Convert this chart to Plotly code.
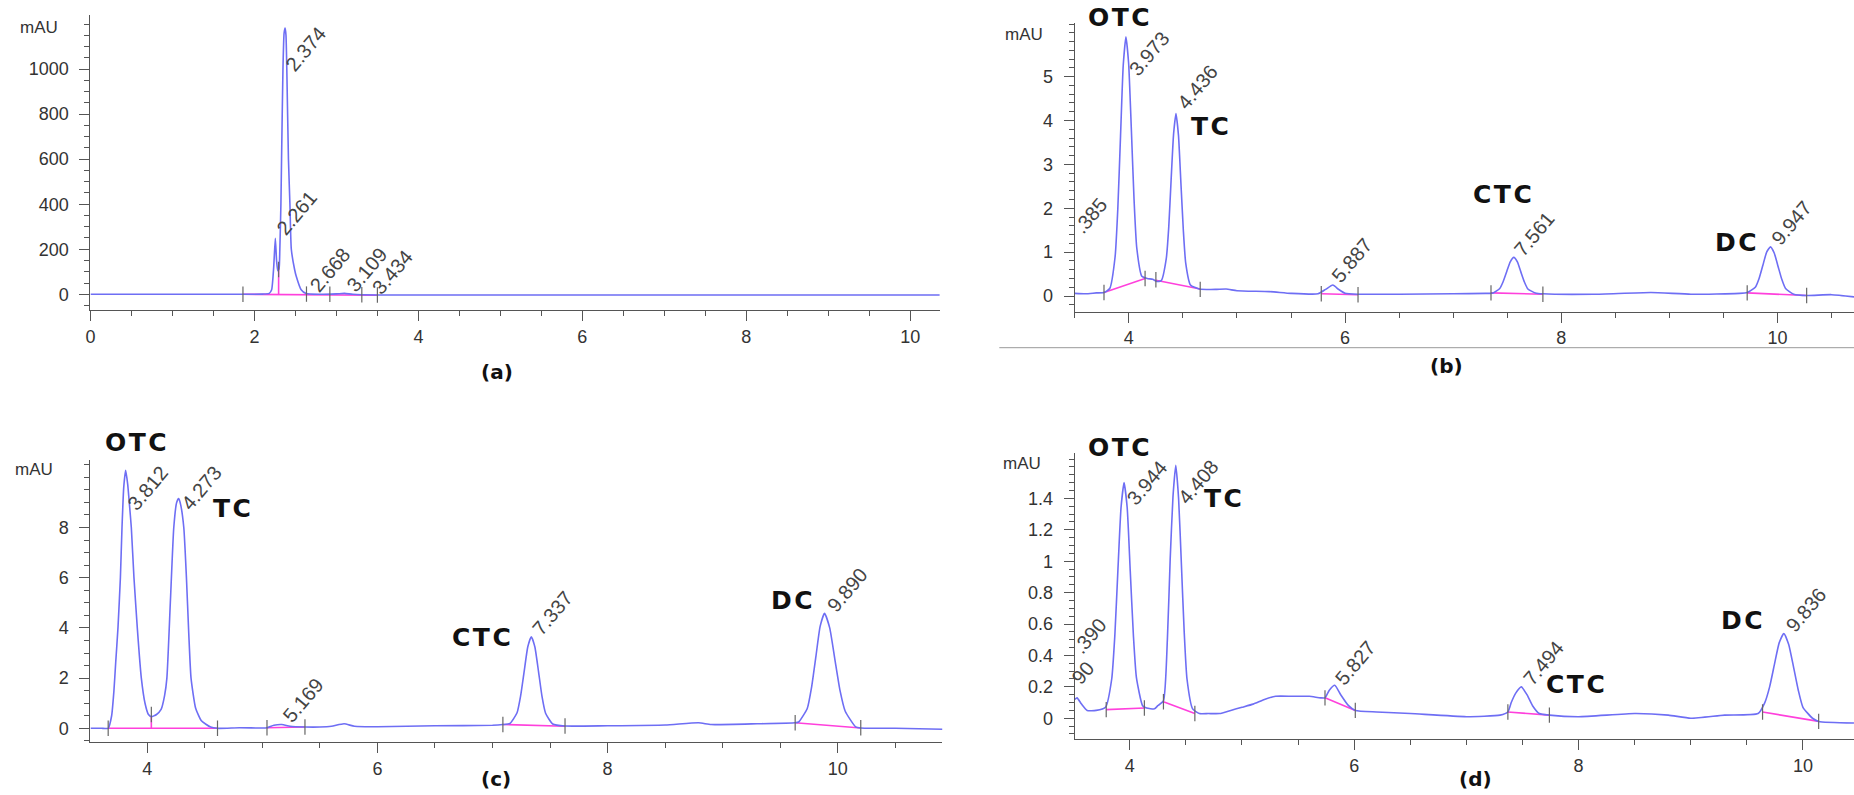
import plotly.graph_objects as go

W, H = 1854, 795

# ---------------- data ----------------
# (a)
A_TIME = [0.0, 1.0, 1.86, 2.10, 2.18, 2.21, 2.235, 2.255, 2.27, 2.285, 2.30, 2.31, 2.323, 2.331,
          2.348, 2.362, 2.374, 2.385, 2.395, 2.415, 2.433, 2.45, 2.49, 2.51, 2.57, 2.63, 2.8, 3.0,
          3.1, 3.2, 3.5, 6.0, 10.36]
A_SIGNAL = [0, 0, 0, 1, 4, 20, 120, 249, 150, 105, 112, 200, 400, 600,
            1000, 1160, 1182, 1150, 1000, 600, 400, 200, 110, 80, 20, 3, 0, 2,
            4, 0, -3, -3, -3]
A_MARK_T = [1.86, 2.295, 2.635, 2.92, 3.31, 3.50]
A_MARK_Y = [0, 110, 1, 0, -2, -3]
A_BASELINES = [(1.86, 0, 3.50, -4), (2.295, 0, 2.295, 122)]
A_RT = ["2.374", "2.261", "2.668", "3.109", "3.434"]

# (b)
B_TIME = [3.50, 3.60, 3.70, 3.77, 3.823, 3.873, 3.898, 3.923, 3.948, 3.973, 3.998, 4.023, 4.048, 4.073,
          4.12, 4.17, 4.22, 4.26, 4.30, 4.346, 4.369, 4.391, 4.414, 4.436, 4.459, 4.481, 4.504, 4.526,
          4.57, 4.65, 4.80, 4.90, 5.0, 5.3, 5.5, 5.75, 5.82, 5.887, 5.94, 6.0, 6.12, 6.5, 7.0, 7.30, 7.37,
          7.431, 7.463, 7.496, 7.528, 7.561, 7.594, 7.626, 7.659, 7.691, 7.76, 7.83, 8.3, 8.83, 9.2, 9.65,
          9.72, 9.795, 9.83, 9.865, 9.90, 9.935, 9.97, 10.005, 10.04, 10.075, 10.15, 10.27, 10.5, 10.71]
B_SIGNAL = [0.06, 0.05, 0.07, 0.08, 0.17, 0.9, 2.0, 3.65, 5.26, 5.91, 5.3, 3.8, 2.2, 1.1,
            0.45, 0.40, 0.38, 0.33, 0.35, 0.85, 1.57, 2.65, 3.7, 4.16, 3.66, 2.6, 1.5, 0.75,
            0.25, 0.16, 0.15, 0.16, 0.12, 0.10, 0.06, 0.05, 0.15, 0.25, 0.15, 0.06, 0.04, 0.04, 0.05, 0.06, 0.07,
            0.17, 0.33, 0.56, 0.78, 0.88, 0.78, 0.55, 0.32, 0.16, 0.07, 0.05, 0.04, 0.08, 0.04, 0.06,
            0.08, 0.20, 0.40, 0.70, 1.0, 1.12, 0.98, 0.68, 0.38, 0.17, 0.04, 0.01, 0.03, -0.02]
B_MARK_T = [3.77, 4.15, 4.25, 4.66, 5.78, 6.12, 7.35, 7.83, 9.72, 10.27]
B_MARK_Y = [0.08, 0.40, 0.37, 0.15, 0.05, 0.03, 0.07, 0.04, 0.07, 0.01]
B_BASELINES = [(3.77, 0.08, 4.15, 0.40), (4.25, 0.36, 4.66, 0.16), (5.78, 0.05, 6.12, 0.03),
               (7.35, 0.07, 7.83, 0.04), (9.72, 0.07, 10.27, 0.01)]
B_RT = ["3.973", "4.436", ".385", "5.887", "7.561", "9.947"]

# (c)
C_TIME = [3.506, 3.60, 3.66, 3.69, 3.71, 3.725, 3.745, 3.766, 3.78, 3.795,
          3.812, 3.83, 3.845, 3.861, 3.884, 3.913, 3.948, 3.98, 4.01, 4.035,
          4.08, 4.12, 4.15, 4.17, 4.20, 4.23, 4.255, 4.273, 4.29, 4.317,
          4.34, 4.36, 4.38, 4.42, 4.47, 4.55, 4.61, 4.8, 5.0, 5.04,
          5.10, 5.169, 5.24, 5.37, 5.5, 5.6, 5.71, 5.8, 6.0, 6.5,
          7.0, 7.09, 7.151, 7.213, 7.244, 7.275, 7.306, 7.337, 7.368, 7.40,
          7.43, 7.461, 7.523, 7.63, 8.0, 8.5, 8.79, 8.9, 9.3, 9.63,
          9.66, 9.735, 9.772, 9.81, 9.847, 9.885, 9.93, 9.975, 10.02, 10.065,
          10.155, 10.2, 10.5, 10.91]
C_SIGNAL = [0.0, 0.0, 0.0, 0.5, 1.5, 2.6, 4.0, 6.0, 8.0, 9.6,
            10.28, 9.7, 8.9, 8.0, 6.0, 4.0, 2.0, 1.0, 0.55, 0.46,
            0.55, 0.75, 1.3, 2.0, 5.0, 8.0, 9.0, 9.15, 8.9, 8.0,
            6.0, 3.8, 2.0, 0.8, 0.3, 0.05, 0.0, 0.02, 0.01, 0.02,
            0.12, 0.15, 0.08, 0.05, 0.05, 0.08, 0.18, 0.08, 0.06, 0.10,
            0.12, 0.15, 0.19, 0.62, 1.29, 2.27, 3.24, 3.65, 3.24, 2.25,
            1.27, 0.6, 0.17, 0.09, 0.10, 0.13, 0.22, 0.15, 0.18, 0.22,
            0.25, 0.79, 1.62, 2.86, 4.06, 4.58, 4.0, 2.75, 1.5, 0.68,
            0.06, 0.01, 0.0, -0.04]
C_MARK_T = [3.66, 4.035, 4.61, 5.04, 5.37, 7.09, 7.63, 9.63, 10.2]
C_MARK_Y = [0.0, 0.55, 0.0, 0.02, 0.05, 0.15, 0.09, 0.22, 0.02]
C_BASELINES = [(3.66, 0.0, 4.61, 0.0), (4.035, 0.0, 4.035, 0.46), (5.04, 0.02, 5.37, 0.05),
               (7.09, 0.15, 7.63, 0.08), (9.63, 0.22, 10.2, 0.01)]
C_RT = ["3.812", "4.273", "5.169", "7.337", "9.890"]

# (d)
D_TIME = [3.51, 3.53, 3.57, 3.62, 3.70, 3.784, 3.839, 3.867, 3.894, 3.922,
          3.949, 3.977, 4.004, 4.032, 4.059, 4.114, 4.15, 4.22, 4.25, 4.30,
          4.335, 4.36, 4.385, 4.41, 4.435, 4.46, 4.485, 4.51, 4.56, 4.62,
          4.7, 4.8, 4.9, 5.0, 5.1, 5.2, 5.3, 5.45, 5.6, 5.7,
          5.74, 5.78, 5.827, 5.88, 5.95, 6.01, 6.2, 6.5, 7.0, 7.3,
          7.37, 7.40, 7.44, 7.49, 7.54, 7.59, 7.65, 7.74, 8.0, 8.5,
          8.8, 9.0, 9.3, 9.60, 9.66, 9.703, 9.745, 9.788, 9.83, 9.873,
          9.915, 9.958, 10.0, 10.085, 10.14, 10.455]
D_SIGNAL = [0.12, 0.13, 0.09, 0.05, 0.05, 0.07, 0.25, 0.53, 0.94, 1.34,
            1.50, 1.34, 0.94, 0.53, 0.26, 0.08, 0.065, 0.06, 0.08, 0.11,
            0.50, 1.01, 1.41, 1.61, 1.40, 0.98, 0.55, 0.25, 0.06, 0.03,
            0.03, 0.03, 0.05, 0.07, 0.09, 0.12, 0.14, 0.14, 0.14, 0.13,
            0.13, 0.18, 0.21, 0.15, 0.08, 0.05, 0.04, 0.03, 0.01, 0.02,
            0.04, 0.10, 0.16, 0.20, 0.15, 0.08, 0.03, 0.02, 0.01, 0.03,
            0.02, 0.0, 0.02, 0.03, 0.10, 0.20, 0.34, 0.48, 0.54, 0.47,
            0.33, 0.18, 0.07, 0.0, -0.02, -0.03]
D_MARK_T = [3.79, 4.13, 4.30, 4.58, 5.74, 6.01, 7.37, 7.74, 9.64, 10.14]
D_MARK_Y = [0.055, 0.065, 0.105, 0.03, 0.13, 0.05, 0.04, 0.02, 0.04, -0.02]
D_BASELINES = [(3.79, 0.055, 4.13, 0.065), (4.30, 0.105, 4.58, 0.03), (5.74, 0.13, 6.01, 0.05),
               (7.37, 0.04, 7.74, 0.02), (9.64, 0.04, 10.14, -0.02)]
D_RT = ["3.944", "4.408", ".390", "90", "5.827", "7.494", "9.836"]

COMPOUNDS = ["OTC", "TC", "CTC", "DC"]
PANEL_TAGS = ["(a)", "(b)", "(c)", "(d)"]

# ---------------- layout (pixel geometry) ----------------
def px(x):
    return x / W

def py(y):
    return 1 - y / H

TRACE = "#6e6ef4"
BASE = "#ff40dc"
AXC = "#555555"
TXT = "#333333"

panels = [
    dict(t=A_TIME, s=A_SIGNAL, mt=A_MARK_T, my=A_MARK_Y, bl=A_BASELINES,
         xd=(85.7, 937.3), yd=(15, 310), xr=[0, 10.36], yr=[-69.7, 1240],
         yt=[0, 200, 400, 600, 800, 1000], ym=50),
    dict(t=B_TIME, s=B_SIGNAL, mt=B_MARK_T, my=B_MARK_Y, bl=B_BASELINES,
         xd=(1072.7, 1854), yd=(23, 311.7), xr=[3.5, 10.708], yr=[-0.358, 6.223],
         yt=[0, 1, 2, 3, 4, 5], ym=0.2),
    dict(t=C_TIME, s=C_SIGNAL, mt=C_MARK_T, my=C_MARK_Y, bl=C_BASELINES,
         xd=(85.7, 940), yd=(460, 742.3), xr=[3.506, 10.91], yr=[-0.558, 10.69],
         yt=[0, 2, 4, 6, 8], ym=0.5),
    dict(t=D_TIME, s=D_SIGNAL, mt=D_MARK_T, my=D_MARK_Y, bl=D_BASELINES,
         xd=(1072.7, 1854), yd=(453.3, 739.3), xr=[3.51, 10.455], yr=[-0.134, 1.687],
         yt=[0, 0.2, 0.4, 0.6, 0.8, 1.0, 1.2, 1.4], ym=0.05),
]

fig = go.Figure()
layout = {}
for i, p in enumerate(panels):
    n = "" if i == 0 else str(i + 1)
    xa, ya = "x" + n, "y" + n
    for (t0, y0, t1, y1) in p["bl"]:
        fig.add_trace(go.Scatter(x=[t0, t1], y=[y0, y1], mode="lines", xaxis=xa, yaxis=ya,
                                 line=dict(color=BASE, width=1.6), hoverinfo="skip", showlegend=False))
    fig.add_trace(go.Scatter(x=p["t"], y=p["s"], mode="lines", xaxis=xa, yaxis=ya,
                             line=dict(color=TRACE, width=1.6, shape="spline", smoothing=0.5),
                             showlegend=False))
    fig.add_trace(go.Scatter(x=p["mt"], y=p["my"], mode="markers", xaxis=xa, yaxis=ya,
                             marker=dict(symbol="line-ns", size=11, line=dict(color="#666", width=1.2)),
                             hoverinfo="skip", showlegend=False))
    common = dict(showline=True, linecolor=AXC, linewidth=1.3, ticks="outside", ticklen=10,
                  tickwidth=1.2, tickcolor=AXC, showgrid=False, zeroline=False,
                  tickfont=dict(family="Liberation Sans", size=18, color=TXT))
    layout["xaxis" + n] = dict(common, domain=[px(p["xd"][0]), px(p["xd"][1])], range=p["xr"],
                               anchor=ya, tick0=0, dtick=2,
                               minor=dict(dtick=0.5, tick0=0, ticklen=5, tickwidth=1, tickcolor=AXC,
                                          ticks="outside", showgrid=False))
    ytext = [("%g" % v) for v in p["yt"]]
    layout["yaxis" + n] = dict(common, domain=[py(p["yd"][1]), py(p["yd"][0])], range=p["yr"],
                               anchor=xa, tickmode="array", tickvals=p["yt"], ticktext=ytext,
                               ticklabelstandoff=7,
                               minor=dict(dtick=p["ym"], tick0=0, ticklen=5, tickwidth=1, tickcolor=AXC,
                                          ticks="outside", showgrid=False))

ann = []

def add_text(text, xpix, ypix, size, color, bold=False, angle=0, family="Liberation Sans",
             xanchor="center"):
    ann.append(dict(text=("<b>%s</b>" % text) if bold else text, x=px(xpix), y=py(ypix),
                    xref="paper", yref="paper", showarrow=False, xanchor=xanchor, yanchor="middle",
                    textangle=angle, font=dict(family=family, size=size, color=color)))

# mAU unit labels
add_text("mAU", 34.5, 28, 17, TXT)
add_text("mAU", 1021.3, 35, 17, TXT)
add_text("mAU", 50, 469, 17, TXT, xanchor="right")
add_text("mAU", 1019.3, 463, 17, TXT)

# retention-time labels (centres in px)
RT_POS = {
    "a": [(301.7, 49.2), (292.5, 213.3), (325.8, 270), (362.5, 270), (388.3, 271.7)],
    "b": [(1146.7, 53.7), (1196, 87.5), (1088, 215.8), (1350.8, 260.3), (1533.3, 233.7), (1790.8, 222.5)],
    "c": [(143.3, 488.3), (196.7, 487.5), (299, 700), (548.8, 612.5), (844.3, 589.7)],
    "d": [(1145, 483), (1196.3, 481.7), (1087.3, 635.7), (1080.7, 673.3), (1353.7, 662.7),
          (1542.5, 662.7), (1805.8, 610)],
}
for key, labels in (("a", A_RT), ("b", B_RT), ("c", C_RT), ("d", D_RT)):
    for lab, (xp, yp) in zip(labels, RT_POS[key]):
        add_text(lab, xp, yp, 20, "#444444", angle=-50)

# compound names
SP = "\u200a"
def spaced(s):
    return SP.join(list(s))

CMP_POS = {
    "b": [(1117, 18), (1208, 127), (1502, 195), (1736, 243)],
    "c": [(131.7, 442), (228, 508), (478, 637), (788.7, 600)],
    "d": [(1117.5, 447), (1221, 498), (1575, 684), (1741.7, 620)],
}
for key in ("b", "c", "d"):
    for name, (xp, yp) in zip(COMPOUNDS, CMP_POS[key]):
        add_text(spaced(name), xp, yp, 25, "#111111", bold=True, family="DejaVu Sans")

# panel tags
for tag, (xp, yp) in zip(PANEL_TAGS, [(493, 372), (1445, 366), (492.5, 779), (1474, 779)]):
    add_text(tag, xp, yp, 20, "#111111", bold=True, family="DejaVu Sans")

shapes = [dict(type="line", xref="paper", yref="paper", x0=px(997), x1=1.0, y0=py(347.7), y1=py(347.7),
               line=dict(color="#999999", width=1))]

fig.update_layout(width=W, height=H, margin=dict(l=0, r=0, t=0, b=0),
                  paper_bgcolor="white", plot_bgcolor="white",
                  annotations=ann, shapes=shapes, **layout)

fig.write_html("out.html", config={"displayModeBar": False},
               post_script="document.body.style.margin='0px';document.body.style.overflow='hidden';")
